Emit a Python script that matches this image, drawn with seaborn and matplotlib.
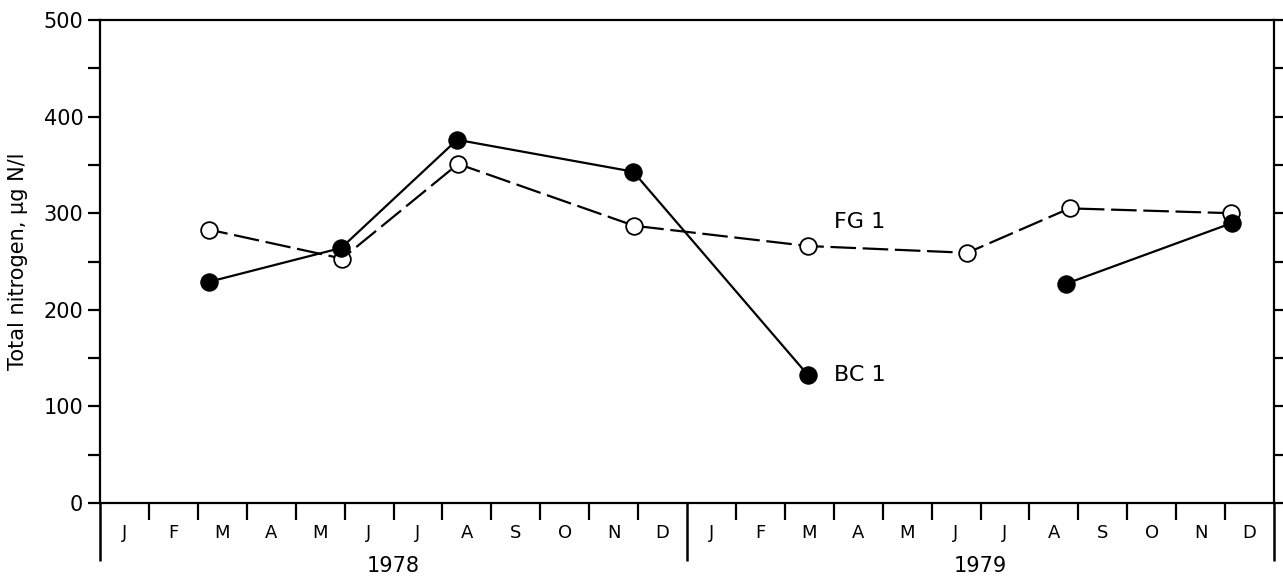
import matplotlib
matplotlib.use("Agg")
import matplotlib.pyplot as plt
import matplotlib.transforms as mtransforms
from matplotlib.ticker import FixedLocator, NullFormatter
import seaborn as sns

sns.set_theme(style="ticks")
plt.rcParams['font.family'] = ['DejaVu Sans']

# ---- data (x in months since 1 Jan 1978) ----
fg1_month = [2.23, 4.95, 7.32, 10.92, 14.48, 17.73, 19.82, 23.13]
fg1_value = [283, 253, 351, 287, 266, 259, 305, 300]

bc1_month = [2.23, 4.93, 7.30, 10.90, 14.48, 19.75, 23.15]
bc1_value = [229, 264, 376, 343, 132, 227, 290]
bc1_segment = [1, 1, 1, 1, 1, 2, 2]

month_labels = ["J", "F", "M", "A", "M", "J", "J", "A", "S", "O", "N", "D"]
year_labels = ["1978", "1979"]
y_major = [0, 100, 200, 300, 400, 500]
y_minor = [50, 150, 250, 350, 450]

fig = plt.figure(figsize=(12.83, 5.82), dpi=100)
ax = fig.add_axes([100 / 1283, 79 / 582, 1174 / 1283, 483 / 582])

sns.lineplot(x=fg1_month, y=fg1_value, ax=ax, color="black", linewidth=1.6,
             marker="o", markersize=12,
             markerfacecolor="white", markeredgecolor="black",
             markeredgewidth=1.3, estimator=None, sort=False, zorder=3)
fg_line = ax.lines[-1]
fg_line.set_linestyle((3, (11.5, 3.0)))

sns.lineplot(x=bc1_month, y=bc1_value, units=bc1_segment, ax=ax, color="black",
             linewidth=1.6, marker="o", markersize=12.5,
             markerfacecolor="black", markeredgecolor="black",
             estimator=None, sort=False, zorder=4)

ax.set_xlim(0, 24)
ax.set_ylim(0, 500)

for s in ax.spines.values():
    s.set_linewidth(1.6)
    s.set_color("black")

# y ticks
ax.yaxis.set_major_locator(FixedLocator(y_major))
ax.yaxis.set_minor_locator(FixedLocator(y_minor))
ax.tick_params(axis="y", which="both", direction="out", length=9, width=1.6,
               left=True, right=True, labelsize=15, pad=3, colors="black")
ax.set_yticklabels([str(v) for v in y_major])

# x ticks: long ticks at year boundaries, short at month boundaries
ax.xaxis.set_major_locator(FixedLocator([0, 12, 24]))
ax.xaxis.set_minor_locator(FixedLocator([m for m in range(1, 24) if m != 12]))
ax.xaxis.set_major_formatter(NullFormatter())
ax.xaxis.set_minor_formatter(NullFormatter())
ax.tick_params(axis="x", which="major", direction="out", length=42, width=1.8,
               colors="black")
ax.tick_params(axis="x", which="minor", direction="out", length=12, width=1.6,
               colors="black")

trans = mtransforms.blended_transform_factory(ax.transData, ax.transAxes)
for yi in range(2):
    for mi, lab in enumerate(month_labels):
        ax.text(yi * 12 + mi + 0.5, -0.062, lab, transform=trans, ha="center",
                va="center", fontsize=13, color="black")
    ax.text(yi * 12 + 6, -0.13, year_labels[yi], transform=trans, ha="center",
            va="center", fontsize=15, color="black")

ax.set_ylabel("Total nitrogen, µg N/l", fontsize=15, color="black")
ax.yaxis.set_label_coords(-72 / 1174, 0.50)

ax.text(15.0, 291, "FG 1", ha="left", va="center", fontsize=16, color="black")
ax.text(15.0, 132, "BC 1", ha="left", va="center", fontsize=16, color="black")

ax.set_xlabel("")
fig.savefig("out.png", dpi=100, facecolor="white")
